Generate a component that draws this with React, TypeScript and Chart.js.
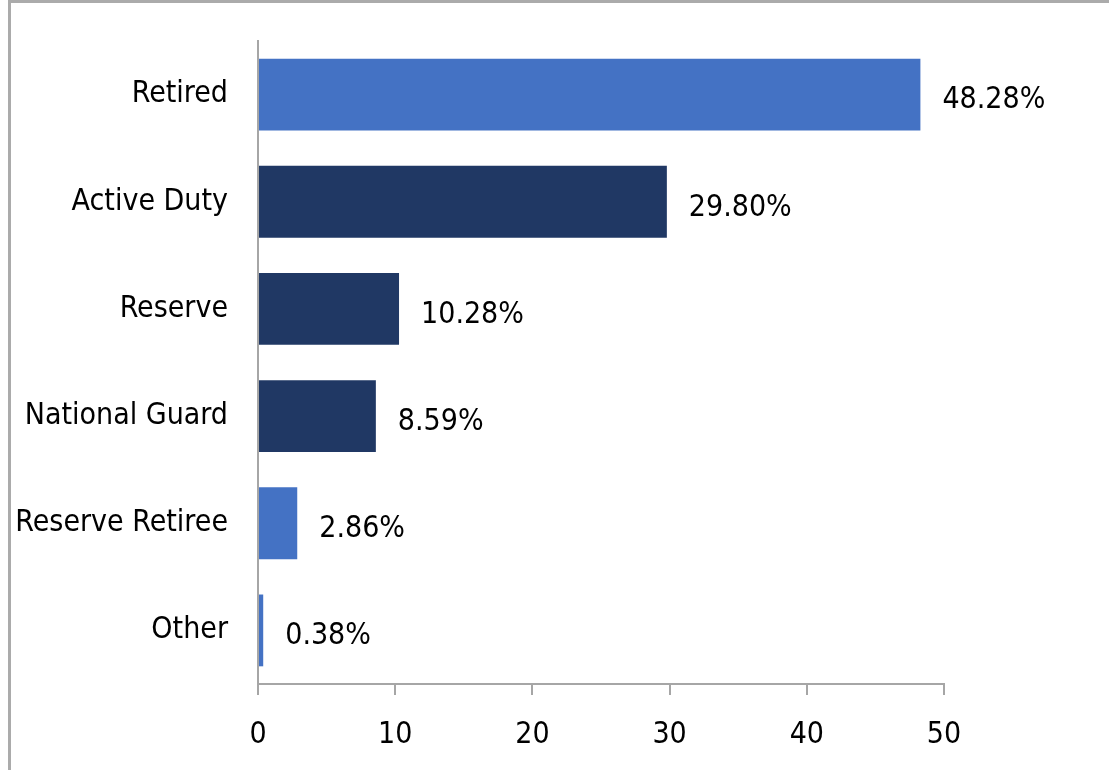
import React, { useEffect, useRef } from "react";
import { Chart, registerables } from "chart.js";

Chart.register(...registerables);

const categories = ["Retired", "Active Duty", "Reserve", "National Guard", "Reserve Retiree", "Other"];
const values = [48.28, 29.8, 10.28, 8.59, 2.86, 0.38];
const valueLabels = ["48.28%", "29.80%", "10.28%", "8.59%", "2.86%", "0.38%"];
const barColors = ["#4472C4", "#203864", "#203864", "#203864", "#4472C4", "#4472C4"];
const xTicks = [0, 10, 20, 30, 40, 50];

const FONT = "'Liberation Sans Narrow', 'DejaVu Sans Condensed', 'Open Sans', sans-serif";

const valueLabelPlugin = {
  id: "valueLabels",
  afterDatasetsDraw(chart: any) {
    const { ctx } = chart;
    const meta = chart.getDatasetMeta(0);
    ctx.save();
    ctx.font = `30px ${FONT}`;
    ctx.fillStyle = "#000000";
    ctx.textAlign = "left";
    ctx.textBaseline = "middle";
    meta.data.forEach((bar: any, i: number) => {
      ctx.fillText(valueLabels[i], bar.x + 22, bar.y + 6);
    });
    ctx.restore();
  },
};

export default function App() {
  const canvasRef = useRef<HTMLCanvasElement | null>(null);

  useEffect(() => {
    if (!canvasRef.current) return;
    const chart = new Chart(canvasRef.current, {
      type: "bar",
      data: {
        labels: categories,
        datasets: [
          {
            data: values,
            backgroundColor: barColors,
            borderWidth: 0,
            categoryPercentage: 1,
            barPercentage: 0.67,
          },
        ],
      },
      options: {
        indexAxis: "y",
        animation: false,
        responsive: false,
        maintainAspectRatio: false,
        devicePixelRatio: 1,
        layout: { padding: { top: 41, right: 165, bottom: 0, left: 0 } },
        plugins: { legend: { display: false }, tooltip: { enabled: false } },
        scales: {
          x: {
            min: 0,
            max: 50,
            afterBuildTicks: (scale: any) => {
              scale.ticks = xTicks.map((v) => ({ value: v }));
            },
            afterFit: (scale: any) => {
              scale.height = 770 - 684;
              scale.paddingLeft = 0;
              scale.paddingRight = 0;
            },
            ticks: {
              color: "#000000",
              font: { family: FONT, size: 30 },
              padding: 22,
              maxRotation: 0,
            },
            grid: {
              drawOnChartArea: false,
              drawTicks: true,
              tickLength: 11,
              color: "#A6A6A6",
              lineWidth: 2,
            },
            border: { display: true, color: "#A6A6A6", width: 2 },
          },
          y: {
            afterFit: (scale: any) => {
              scale.width = 258;
              scale.paddingTop = 0;
              scale.paddingBottom = 0;
            },
            ticks: {
              color: "#000000",
              font: { family: FONT, size: 30 },
              padding: 30,
            },
            grid: { display: false, drawTicks: false },
            border: { display: true, color: "#A6A6A6", width: 2 },
          },
        },
      },
      plugins: [valueLabelPlugin],
    });
    return () => chart.destroy();
  }, []);

  return (
    <div style={{ position: "absolute", left: 0, top: 0, width: 1109, height: 770, overflow: "hidden", background: "#ffffff" }}>
      <div
        style={{
          position: "absolute",
          left: 8,
          top: 0,
          width: 1200,
          height: 900,
          borderTop: "3px solid #ABABAB",
          borderLeft: "3px solid #ABABAB",
        }}
      />
      <canvas ref={canvasRef} width={1109} height={770} style={{ position: "absolute", left: 0, top: 0, width: 1109, height: 770 }} />
    </div>
  );
}
